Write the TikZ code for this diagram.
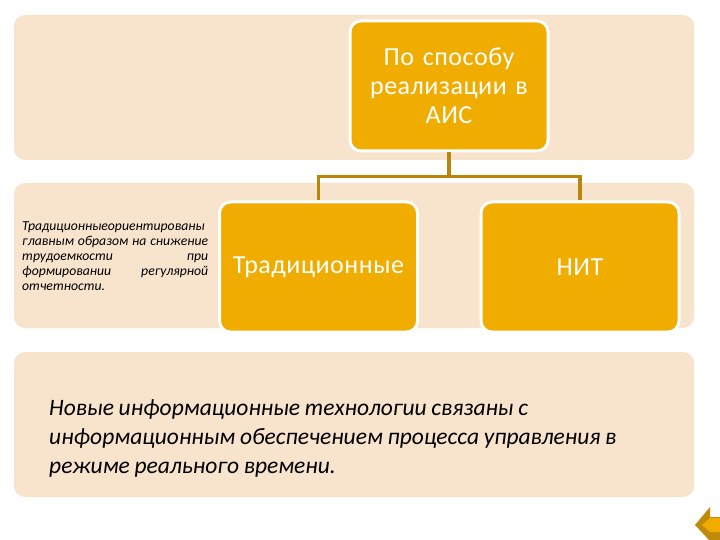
\documentclass[tikz,border=0pt]{standalone}
\usepackage{fontspec}
\setmainfont{Carlito}
\usepackage{xcolor}
\definecolor{bandcol}{HTML}{F8E3CD}
\definecolor{boxcol}{HTML}{F0AD00}
\definecolor{linecol}{HTML}{B8860B}
\definecolor{arrowcol}{HTML}{C08A0A}
\tikzset{
bandbox/.style={fill=bandcol,rounded corners=11pt},
orgbox/.style={draw=white,fill=boxcol,line width=3pt,rounded corners=11pt,minimum width=198pt,minimum height=130pt,align=center,text=white,font=\fontsize{26}{29.2}\selectfont\addfontfeature{LetterSpace=2},inner sep=0pt},
orgline/.style={draw=linecol,line width=3.5pt},
}
\begin{document}
\begin{tikzpicture}[x=1pt,y=-1pt]
\useasboundingbox (0,0) rectangle (720,540);
\fill[white](0,0) rectangle (720,540);
% bands
\path[bandbox](14,15) rectangle (694,160);
\path[bandbox](14,183) rectangle (694,328);
\path[bandbox](14,352) rectangle (694,497);
% boxes
\node[orgbox,text width=170pt] (top) at (449,86) {По способу\\реализации в\\АИС};
\node[orgbox] (trad) at (318.5,267) {Традиционные};
\node[orgbox] (nit) at (580,267) {НИТ};
% connectors
\coordinate (fork) at (449,176.5);
\draw[orgline] (top.south)--(fork);
\draw[orgline] (fork)-|(trad.north);
\draw[orgline] (fork)-|(nit.north);
% texts
\node[anchor=north west,inner sep=0pt,text width=186pt,align=justify,font=\fontsize{13.7}{14.8}\selectfont\itshape] (note) at (22,222) {\spaceskip=.12em plus 3em minus .1em\relax\hbadness=10000\hfuzz=20pt Традиционныеориентированы\linebreak главным образом на снижение\linebreak трудоемкости при\linebreak формировании регулярной\linebreak отчетности.};
\node[anchor=north west,inner sep=0pt,text width=640pt,align=left,font=\fontsize{23.5}{29.3}\selectfont\itshape] (newtext) at (49,399) {\spaceskip=.2em\relax Новые информационные технологии связаны с\\информационным обеспечением процесса управления в\\режиме реального времени.};
% back arrow
\fill[arrowcol](695,525)--(710,507)--(710,517)--(720,517)--(720,540)--(709,540)--cycle;
\fill[boxcol](702,525)--(710,518)--(720,518)--(720,532)--(710,532)--cycle;
\end{tikzpicture}
\end{document}
